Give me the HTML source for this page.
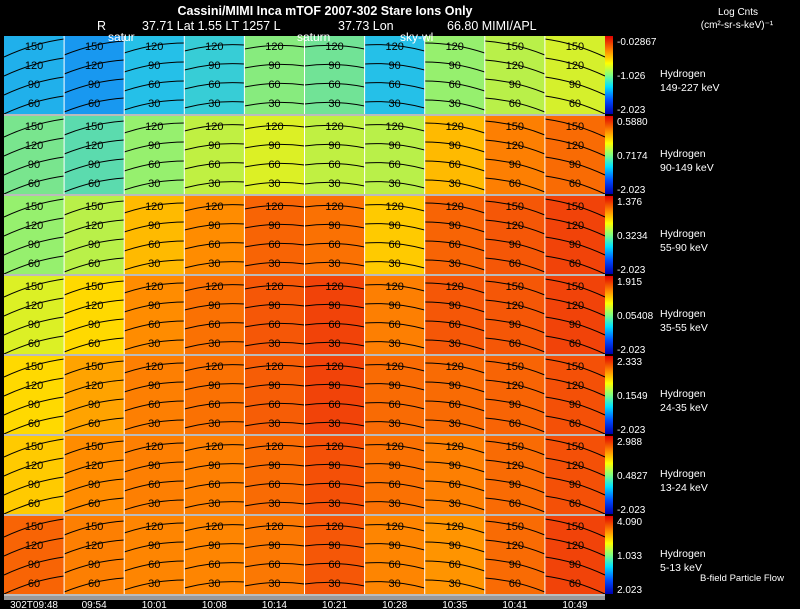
<!DOCTYPE html>
<html><head><meta charset="utf-8"><style>
html,body{margin:0;padding:0;background:#000;}
svg{display:block;font-family:"Liberation Sans",Arial,sans-serif;}
</style></head><body>
<svg id="chart" width="800" height="609" viewBox="0 0 800 609" xmlns="http://www.w3.org/2000/svg">
<defs>
<linearGradient id="cbar" x1="0" y1="1" x2="0" y2="0">
<stop offset="0" stop-color="#0000b0"/><stop offset="0.18" stop-color="#0050ff"/>
<stop offset="0.35" stop-color="#00e0ff"/><stop offset="0.5" stop-color="#80ff80"/>
<stop offset="0.65" stop-color="#ffff00"/><stop offset="0.8" stop-color="#ff9000"/>
<stop offset="1" stop-color="#e00000"/></linearGradient>
</defs>
<rect width="800" height="609" fill="#000"/>
<text x="325" y="15" fill="#fff" font-size="12.5" text-anchor="middle" font-weight="bold">Cassini/MIMI Inca mTOF   2007-302    Stare     Ions Only</text>
<text y="30" fill="#fff" font-size="12.5"><tspan x="97">R</tspan><tspan x="142">37.71 Lat 1.55 LT 1257 L</tspan><tspan x="338">37.73 Lon</tspan><tspan x="447">66.80   MIMI/APL</tspan></text>
<text x="738" y="15" fill="#fff" font-size="10" text-anchor="middle">Log Cnts</text>
<text x="737" y="28" fill="#fff" font-size="10" text-anchor="middle">(cm²-sr-s-keV)⁻¹</text>
<g id="panels"></g>
<rect x="4" y="596" width="601" height="4" fill="#999"/>
<text x="108" y="41" fill="#fff" font-size="12">satur</text>
<text x="297" y="41" fill="#fff" font-size="12">saturn</text>
<text x="400" y="41" fill="#fff" font-size="12">sky-wl</text>
<text x="700" y="581" fill="#fff" font-size="9.5">B-field Particle Flow</text>
<g id="times"></g>
</svg>
<script>
const timeLabels=["302T09:48","09:54","10:01","10:08","10:14","10:21","10:28","10:35","10:41","10:49"];
const energyLabels=["149-227 keV","90-149 keV","55-90 keV","35-55 keV","24-35 keV","13-24 keV","5-13 keV"];
const cbarTop=["-0.02867","0.5880","1.376","1.915","2.333","2.988","4.090"];
const cbarMid=["-1.026","0.7174","0.3234","0.05408","0.1549","0.4827","1.033"];
const cbarBot=["-2.023","-2.023","-2.023","-2.023","-2.023","-2.023","2.023"];
const row1=[0.32,0.29,0.34,0.37,0.48,0.45,0.34,0.50,0.55,0.59];
const row2=[0.46,0.42,0.50,0.56,0.60,0.56,0.55,0.72,0.80,0.83];
const row3=[0.50,0.55,0.72,0.78,0.84,0.82,0.70,0.84,0.86,0.89];
const row4=[0.60,0.68,0.78,0.82,0.86,0.89,0.80,0.86,0.86,0.89];
const row5=[0.68,0.75,0.80,0.82,0.85,0.89,0.83,0.83,0.84,0.87];
const row6=[0.70,0.78,0.80,0.80,0.83,0.87,0.82,0.80,0.83,0.87];
const row7=[0.84,0.80,0.79,0.79,0.81,0.86,0.79,0.77,0.83,0.89];
const rows=[row1,row2,row3,row4,row5,row6,row7];
const contourLabels=["150","120","90","60","30"];
const NS="http://www.w3.org/2000/svg";
const X0=4,X1=605,Y0=36,RH=80,NC=10;
const colW=(X1-X0)/NC;
const xPos=i=>X0+i*colW;
const yPos=r=>Y0+r*RH;
const stops=[[0,[0,0,176]],[0.2,[0,80,255]],[0.35,[40,200,230]],[0.5,[150,240,110]],[0.65,[255,240,0]],[0.78,[255,140,0]],[0.9,[240,60,10]],[1,[200,0,0]]];
function cmap(v){v=Math.max(0,Math.min(1,v));for(let i=1;i<stops.length;i++){if(v<=stops[i][0]){const a=stops[i-1],b=stops[i];const t=(v-a[0])/(b[0]-a[0]);const c=a[1].map((x,k)=>Math.round(x+(b[1][k]-x)*t));return `rgb(${c})`;}}return "rgb(200,0,0)";}
function mk(tag,attrs,parent){const e=document.createElementNS(NS,tag);for(const k in attrs)e.setAttribute(k,attrs[k]);parent.appendChild(e);return e;}
const g=document.getElementById('panels');
rows.forEach((vals,r)=>{
  const y=yPos(r);
  vals.forEach((v,c)=>{
    const x=xPos(c);
    const cell=mk('rect',{x:x,y:y,width:colW,height:RH-2,fill:cmap(v)},g);
    
    
    const slope=(4.5-c)*2;
    for(let k=0;k<4;k++){
      const yy=y+12+k*19;
      const p=mk('path',{d:`M${x} ${yy+slope} Q${x+colW/2} ${yy-5} ${x+colW} ${yy-slope}`,stroke:'#000','stroke-width':1,fill:'none'},g);
      
      
      const t=mk('text',{x:x+colW/2,y:yy+2,fill:'#000','font-size':11,'text-anchor':'middle'},g);
      t.textContent=contourLabels[k+(c<2||c>7?0:1)];
      
      
    }
    if(c>0){const s=mk('rect',{x:x-0.5,y:y,width:1,height:RH-2,fill:'#fff'},g);
      
      }
  });
  const sep=mk('rect',{x:X0,y:y+RH-2,width:X1-X0,height:2,fill:'#bbb'},g);
  
  
  const cb=mk('rect',{x:605,y:y,width:8,height:RH-2,fill:'url(#cbar)'},g);
  
  
  const labs=[[cbarTop[r],y+9],[cbarMid[r],y+43],[cbarBot[r],y+RH-3]];
  labs.forEach(([s,yy])=>{const t=mk('text',{x:617,y:yy,fill:'#fff','font-size':10},g);t.textContent=s;
    
    });
  const h=mk('text',{x:660,y:y+41,fill:'#fff','font-size':10.5},g);h.textContent='Hydrogen';
  
  
  const e=mk('text',{x:660,y:y+55,fill:'#fff','font-size':10.5},g);e.textContent=energyLabels[r];
  
  
});
const tg=document.getElementById('times');
timeLabels.forEach((s,i)=>{const t=mk('text',{x:xPos(i)+colW/2,y:608,fill:'#fff','font-size':10,'text-anchor':'middle'},tg);t.textContent=s;
  
  });
</script>
</body></html>
